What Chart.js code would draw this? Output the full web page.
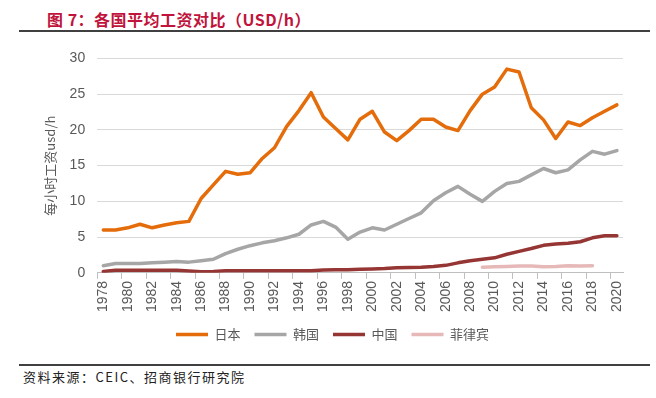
<!DOCTYPE html>
<html>
<head>
<meta charset="utf-8">
<script src="https://cdn.jsdelivr.net/npm/chart.js@4/dist/chart.umd.min.js"></script>
<style>
  body { margin: 0; background: #fff; width: 656px; height: 398px; position: relative; overflow: hidden; }
  #title { position: absolute; left: 47px; top: 7px; font: bold 16px "Noto Sans CJK SC", sans-serif; color: #c0143c; letter-spacing: 0.5px; }
  #topline { position: absolute; left: 19px; top: 30px; width: 631px; height: 2px; background: #404040; }
  #chartbox { position: absolute; left: 0; top: 38px; width: 656px; height: 313px; }
  #srcline { position: absolute; left: 19px; top: 364px; width: 631px; height: 2px; background: #404040; }
  #source { position: absolute; left: 23px; top: 367px; font: 13px "Noto Sans CJK SC", sans-serif; color: #222; letter-spacing: 1.5px; }
</style>
</head>
<body>
<div id="title">图 7：各国平均工资对比（USD/h）</div>
<div id="topline"></div>
<div id="chartbox"><canvas id="chart_wage"></canvas></div>
<div id="srcline"></div>
<div id="source">资料来源：CEIC、招商银行研究院</div>
<script>
// years on the x axis
var years = [];
for (var y = 1978; y <= 2020; y++) years.push(String(y));

// wage values (USD per hour)
var japan = [6.0, 6.0, 6.3, 6.8, 6.3, 6.7, 7.0, 7.2, 10.4, 12.3, 14.2, 13.8, 14.0, 16.0, 17.5,
  20.5, 22.7, 25.2, 21.8, 20.2, 18.6, 21.5, 22.6, 19.7, 18.5, 19.9, 21.5, 21.5, 20.4, 19.9,
  22.7, 25.0, 26.0, 28.5, 28.1, 23.1, 21.4, 18.8, 21.1, 20.6, 21.7, 22.6, 23.5];
var korea = [1.0, 1.3, 1.3, 1.3, 1.4, 1.5, 1.6, 1.5, 1.7, 1.9, 2.7, 3.3, 3.8, 4.2, 4.5,
  4.9, 5.4, 6.7, 7.2, 6.4, 4.7, 5.7, 6.3, 6.0, 6.8, 7.6, 8.4, 10.1, 11.2, 12.1,
  11.0, 10.0, 11.4, 12.5, 12.8, 13.7, 14.6, 14.0, 14.4, 15.8, 17.0, 16.6, 17.1];
var china = [0.2, 0.35, 0.35, 0.35, 0.35, 0.35, 0.35, 0.25, 0.15, 0.2, 0.3, 0.3, 0.3, 0.3, 0.3,
  0.3, 0.3, 0.3, 0.4, 0.45, 0.45, 0.5, 0.55, 0.6, 0.7, 0.75, 0.8, 0.9, 1.05, 1.4,
  1.7, 1.9, 2.1, 2.6, 3.0, 3.4, 3.85, 4.05, 4.15, 4.35, 4.9, 5.2, 5.2];
var philippines = [null, null, null, null, null, null, null, null, null, null, null, null, null, null, null,
  null, null, null, null, null, null, null, null, null, null, null, null, null, null, null,
  null, 0.8, 0.85, 0.9, 0.95, 0.95, 0.85, 0.9, 1.0, 0.95, 1.0, null, null];
var yTicks = [0, 5, 10, 15, 20, 25, 30];

var axisFont = { family: "'Liberation Sans', Arial, sans-serif", size: 14 };
var cjkFont = { family: "'Noto Sans CJK SC', sans-serif", size: 13 };

function series(label, data, color) {
  return { label: label, data: data, borderColor: color, backgroundColor: color,
    borderWidth: 3.5, borderJoinStyle: 'round', borderCapStyle: 'round',
    pointRadius: 0, pointStyle: 'line', tension: 0, fill: false, spanGaps: false };
}

var ctxWage = document.getElementById('chart_wage').getContext('2d');
var chartWage = new Chart(ctxWage, {
  type: 'line',
  data: {
    labels: years,
    datasets: [
      series('日本', japan, '#e46c0a'),
      series('韩国', korea, '#a6a6a6'),
      series('中国', china, '#963634'),
      series('菲律宾', philippines, '#e6b9b8')
    ]
  },
  options: {
    responsive: true,
    maintainAspectRatio: false,
    animation: false,
    layout: { padding: { left: 42, right: 33, top: 12, bottom: 0 } },
    plugins: {
      tooltip: { enabled: false },
      legend: {
        position: 'bottom',
        labels: { usePointStyle: true, pointStyle: 'line', pointStyleWidth: 32, boxHeight: 13,
          color: '#595959', font: cjkFont, padding: 14 }
      }
    },
    scales: {
      x: {
        offset: true,
        grid: {
          offset: true,
          drawOnChartArea: false,
          drawTicks: true,
          tickLength: 6,
          color: function (c) { return c.index % 2 === 0 ? '#bfbfbf' : 'rgba(0,0,0,0)'; }
        },
        border: { display: true, color: '#bfbfbf' },
        ticks: {
          autoSkip: false, maxRotation: 90, minRotation: 90, color: '#595959', font: axisFont,
          padding: 2,
          callback: function (v, i) { return i % 2 === 0 ? years[i] : ''; }
        }
      },
      y: {
        min: 0, max: 30,
        afterBuildTicks: function (s) { s.ticks = yTicks.map(function (v) { return { value: v }; }); },
        grid: { color: '#d9d9d9', drawTicks: false },
        border: { display: false },
        ticks: { color: '#595959', font: axisFont, padding: 12 },
        title: { display: true, text: '每小时工资usd/h', color: '#595959', font: { family: "'Noto Sans CJK SC', sans-serif", size: 13 }, padding: { top: 0, bottom: 0 } }
      }
    }
  }
});
</script>
</body>
</html>
